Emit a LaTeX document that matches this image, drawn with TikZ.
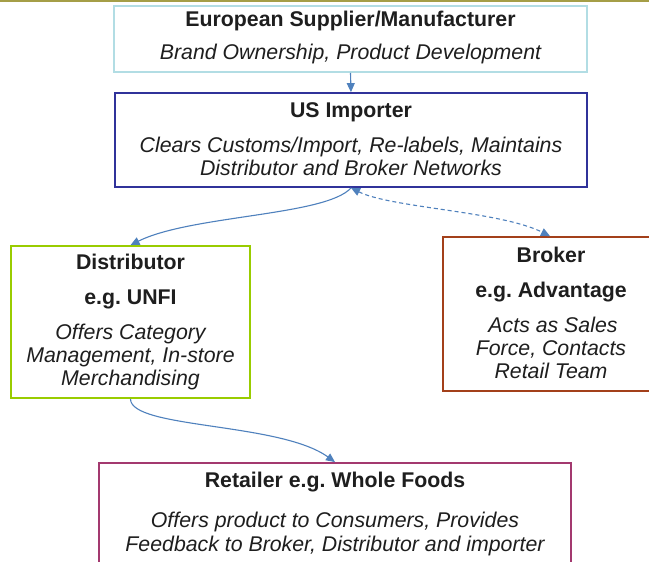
\documentclass[tikz,border=0pt]{standalone}
\usepackage{fontspec}
\setmainfont{Liberation Sans}
\usetikzlibrary{arrows.meta}
\frenchspacing

\definecolor{ink}{HTML}{1E1E1E}
\definecolor{rule}{HTML}{A59E47}
\definecolor{supc}{HTML}{B2DDE4}
\definecolor{impc}{HTML}{30329A}
\definecolor{distc}{HTML}{99CC00}
\definecolor{brkc}{HTML}{A3401A}
\definecolor{retc}{HTML}{A3396F}
\definecolor{flowc}{HTML}{4F81BD}

\tikzset{
  box/.style={draw=#1, line width=1.8pt, rectangle, inner sep=0pt},
  ttl/.style={font=\fontsize{21.3}{23}\selectfont\bfseries, text=ink, anchor=base, inner sep=0pt},
  dsc/.style={font=\fontsize{21.3}{23}\selectfont\itshape, text=ink, anchor=base, inner sep=0pt},
  flow/.style={draw=flowc, line width=1.1pt, -{Triangle[length=9pt,width=8pt]}},
  flowboth/.style={draw=flowc, line width=1.1pt, dash pattern=on 4pt off 3pt,
    {Triangle[length=9pt,width=8pt]}-{Triangle[length=9pt,width=8pt]}}
}

\begin{document}
\begin{tikzpicture}[x=1pt,y=-1pt]
\useasboundingbox (0,0) rectangle (649,562);
\clip (0,0) rectangle (649,562);
\fill[white] (0,0) rectangle (649,562);
% thin rule along the top edge
\fill[rule] (0,0) rectangle (649,2);

% boxes
\node[box=supc,  minimum width=473pt, minimum height=66pt]  (sup)  at (350.5,39)  {};
\node[box=impc,  minimum width=472pt, minimum height=94pt]  (imp)  at (351,140)   {};
\node[box=distc, minimum width=239pt, minimum height=152pt] (dist) at (130.5,322)  {};
\node[box=brkc,  minimum width=214pt, minimum height=154pt] (brk)  at (550,314)   {};
\node[box=retc,  minimum width=472pt, minimum height=136pt] (ret)  at (335,531)   {};

% European supplier
\node[ttl] (supT) at (350.5,27) {European Supplier/Manufacturer};
\node[dsc] (supD) at (350.5,59) {Brand Ownership, Product Development};

% US importer
\node[ttl] (impT)  at (351,117) {US Importer};
\node[dsc] (impD1) at (351,152) {Clears Customs/Import, Re-labels, Maintains};
\node[dsc] (impD2) at (351,175) {Distributor and Broker Networks};

% distributor
\node[ttl] (distT)  at (130.5,269) {Distributor};
\node[ttl] (distE)  at (130.5,304) {e.g. UNFI};
\node[dsc] (distD1) at (130.5,339) {Offers Category};
\node[dsc] (distD2) at (130.5,362) {Management, In-store};
\node[dsc] (distD3) at (130.5,385) {Merchandising};

% broker
\node[ttl] (brkT)  at (551,262) {Broker};
\node[ttl] (brkE)  at (551,297) {e.g. Advantage};
\node[dsc] (brkD1) at (553,332) {Acts as Sales};
\node[dsc] (brkD2) at (551,355) {Force, Contacts};
\node[dsc] (brkD3) at (551,378) {Retail Team};

% retailer
\node[ttl] (retT)  at (335,487) {Retailer e.g. Whole Foods};
\node[dsc] (retD1) at (335,527) {Offers product to Consumers, Provides};
\node[dsc] (retD2) at (335,551) {Feedback to Broker, Distributor and importer};

% connectors
\draw[flow] (sup.south) -- (imp.north);
\draw[flow] (imp.south) .. controls +(-25,28) and +(60,-30) .. (dist.north);
\draw[flowboth] (imp.south) .. controls +(40,20) and +(-50,-25) .. (brk.north);
\draw[flow] (dist.south) .. controls +(0,30) and +(-55,-40) .. (ret.north);
\end{tikzpicture}
\end{document}
